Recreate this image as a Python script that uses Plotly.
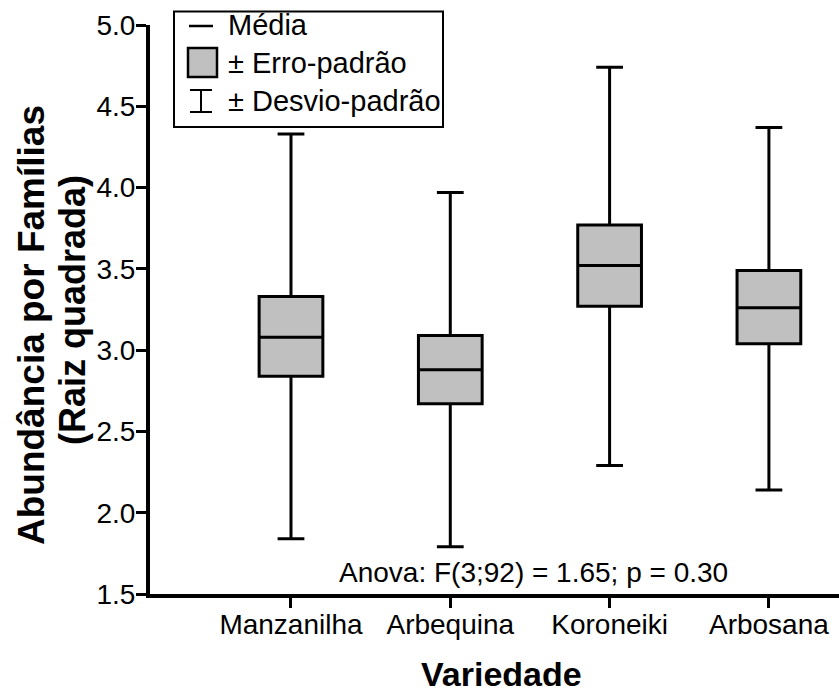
import plotly.graph_objects as go

# Variedades de oliveira e estatísticas de abundância (raiz quadrada)
categorias = ["Manzanilha", "Arbequina", "Koroneiki", "Arbosana"]
media = [3.08, 2.88, 3.52, 3.26]
erro_inf = [2.84, 2.67, 3.27, 3.04]
erro_sup = [3.33, 3.09, 3.77, 3.49]
desvio_inf = [1.84, 1.79, 2.29, 2.14]
desvio_sup = [4.33, 3.97, 4.74, 4.37]

y_ticks = [1.5, 2.0, 2.5, 3.0, 3.5, 4.0, 4.5, 5.0]
y_tick_text = ["1.5", "2.0", "2.5", "3.0", "3.5", "4.0", "4.5", "5.0"]

W, H = 839, 695
ML, MR, MT, MB = 150, 0, 25, 101
PW, PH = W - ML - MR, H - MT - MB
FONT = "Liberation Sans, Arial, Helvetica, sans-serif"


def px_x(p):
    return (p - ML) / PW


def px_y(p):
    return (H - MB - p) / PH


fig = go.Figure()
fig.add_trace(go.Box(
    x=categorias,
    q1=erro_inf,
    median=media,
    q3=erro_sup,
    lowerfence=desvio_inf,
    upperfence=desvio_sup,
    boxpoints=False,
    fillcolor="#C0C0C0",
    line=dict(color="black", width=3),
    width=0.4,
    whiskerwidth=0.42,
    hoverinfo="skip",
    showlegend=False,
))

shapes = []
annotations = []

# Legenda desenhada à mão
shapes.append(dict(type="rect", xref="paper", yref="paper",
                   x0=px_x(174), x1=px_x(443), y0=px_y(127), y1=px_y(11.5),
                   line=dict(color="black", width=2), fillcolor="white"))
shapes.append(dict(type="line", xref="paper", yref="paper",
                   x0=px_x(189), x1=px_x(213), y0=px_y(26), y1=px_y(26),
                   line=dict(color="black", width=2.5)))
shapes.append(dict(type="rect", xref="paper", yref="paper",
                   x0=px_x(188), x1=px_x(217), y0=px_y(77), y1=px_y(48),
                   line=dict(color="black", width=2.5), fillcolor="#C0C0C0"))
shapes.append(dict(type="line", xref="paper", yref="paper",
                   x0=px_x(201), x1=px_x(201), y0=px_y(90), y1=px_y(112),
                   line=dict(color="black", width=2)))
for yy in (90, 112):
    shapes.append(dict(type="line", xref="paper", yref="paper",
                       x0=px_x(190), x1=px_x(212), y0=px_y(yy), y1=px_y(yy),
                       line=dict(color="black", width=2)))

legend_items = [("Média", 25), ("± Erro-padrão", 63), ("± Desvio-padrão", 101)]
for txt, yy in legend_items:
    annotations.append(dict(text=txt, xref="paper", yref="paper",
                            x=px_x(226), y=px_y(yy), xanchor="left", yanchor="middle",
                            showarrow=False, font=dict(size=29, color="black", family=FONT)))

annotations.append(dict(text="Anova: F(3;92) = 1.65; p = 0.30", xref="paper", yref="paper",
                        x=px_x(533), y=px_y(572), xanchor="center", yanchor="middle",
                        showarrow=False, font=dict(size=28, color="black", family=FONT)))

annotations.append(dict(text="<b>Variedade</b>", xref="paper", yref="paper",
                        x=px_x(501), y=px_y(695), xanchor="center", yanchor="bottom",
                        showarrow=False, font=dict(size=34, color="black", family=FONT)))

annotations.append(dict(text="<b>Abundância por Famílias</b>", xref="paper", yref="paper",
                        x=px_x(31), y=px_y(325), xanchor="center", yanchor="middle",
                        textangle=-90, showarrow=False,
                        font=dict(size=37, color="black", family=FONT)))
annotations.append(dict(text="<b>(Raiz quadrada)</b>", xref="paper", yref="paper",
                        x=px_x(72), y=px_y(310), xanchor="center", yanchor="middle",
                        textangle=-90, showarrow=False,
                        font=dict(size=36, color="black", family=FONT)))

fig.update_layout(
    width=W, height=H,
    margin=dict(l=ML, r=MR, t=MT, b=MB, pad=0),
    paper_bgcolor="white", plot_bgcolor="white",
    font=dict(family=FONT, color="black"),
    shapes=shapes,
    annotations=annotations,
    xaxis=dict(
        type="category", categoryorder="array", categoryarray=categorias,
        range=[-0.885, 3.44],
        showline=True, linecolor="black", linewidth=4,
        ticks="outside", ticklen=10, tickwidth=2.5, tickcolor="black",
        showgrid=False, zeroline=False,
        ticklabelstandoff=-8,
        tickfont=dict(size=28, color="black", family=FONT),
    ),
    yaxis=dict(
        range=[1.5, 5.0],
        tickvals=y_ticks, ticktext=y_tick_text,
        showline=True, linecolor="black", linewidth=4,
        ticks="outside", ticklen=10, tickwidth=2.5, tickcolor="black",
        showgrid=False, zeroline=False,
        ticklabelstandoff=-5,
        tickfont=dict(size=28, color="black", family=FONT),
    ),
)

fig.write_html("out.html")
